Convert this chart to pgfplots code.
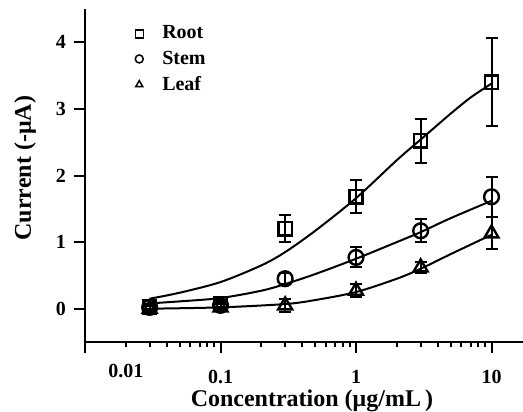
\documentclass[border=0pt]{standalone}
\usepackage{pgfplots}
\pgfplotsset{compat=1.18}
\usepackage{fontspec}
\setmainfont{Liberation Serif}
\begin{document}
\begin{tikzpicture}
\begin{axis}[
  scale only axis, width=219pt, height=166.5pt,
  xmode=log, xmin=0.01, xmax=17.07, ymin=-0.5, ymax=4.5,
  axis x line*=bottom, axis y line*=left,
  axis line style={line width=1.3pt},
  tick align=outside, major tick length=5.5pt, minor tick length=2.5pt,
  tick style={line width=1pt, black},
  xtick={0.01,0.1,1,10}, xticklabels={,0.1,1,10},
  extra x ticks={0.02}, extra x tick labels={0.01},
  extra x tick style={major tick length=2.5pt},
  ytick={0,1,2,3,4}, yticklabels={0,1,2,3,4},
  ticklabel style={font=\bfseries\fontsize{10}{12}\selectfont},
  xticklabel style={yshift=-5pt},
  yticklabel style={xshift=-0.5pt},
  xlabel={Concentration (μg/mL\,)},
  ylabel={Current (-μA)},
  label style={font=\bfseries\fontsize{12}{14}\selectfont},
  xlabel style={at={(axis description cs:0.518,0)}, anchor=north, yshift=-20.5pt},
  ylabel style={at={(axis description cs:0,0.522)}, anchor=center, yshift=30pt},
  legend style={draw=none, fill=none, at={(axis description cs:0.091,0.975)}, anchor=north west,
    font=\bfseries\fontsize{10}{12}\selectfont, row sep=0.5pt},
  legend cell align=left,
  legend image code/.code={\path[draw=none] (-4pt,0pt) -- (9.5pt,0pt);\draw[#1, mark size=2pt, line width=0.75pt] plot coordinates {(0pt,0pt)};},
  error bars/error bar style={line width=1pt},
  error bars/error mark options={rotate=90, mark size=3pt, line width=1pt},
]
% Root
\addplot[only marks, mark=square, mark size=3.3pt, line width=1.2pt,
  error bars/.cd, y dir=both, y explicit]
  table[x=x, y=y, y error=e] {
x y e
0.03 0.03 0.04
0.1 0.08 0.05
0.3 1.20 0.20
1 1.68 0.25
3 2.52 0.33
10 3.40 0.66
};
\addlegendentry{Root}
% Stem
\addplot[only marks, mark=o, mark size=3.7pt, line width=1.2pt,
  error bars/.cd, y dir=both, y explicit]
  table[x=x, y=y, y error=e] {
x y e
0.03 0.02 0.04
0.1 0.05 0.05
0.3 0.45 0.08
1 0.77 0.15
3 1.17 0.17
10 1.68 0.30
};
\addlegendentry{Stem}
% Leaf
\addplot[only marks, mark=triangle, mark size=4pt, line width=1.2pt,
  error bars/.cd, y dir=both, y explicit]
  table[x=x, y=y, y error=e] {
x y e
0.03 0.00 0.04
0.1 0.02 0.05
0.3 0.05 0.10
1 0.27 0.10
3 0.62 0.08
10 1.13 0.24
};
\addlegendentry{Leaf}
% fitted curves
\addplot[smooth, no marks, line width=1pt, forget plot] coordinates {
(0.03,0.15) (0.05,0.24) (0.1,0.40) (0.2,0.65) (0.3,0.85) (0.5,1.17) (1,1.66) (2,2.23) (3,2.54) (4,2.76) (5,2.93) (7,3.17) (10,3.38)};
\addplot[smooth, no marks, line width=1pt, forget plot] coordinates {
(0.03,0.08) (0.05,0.11) (0.1,0.16) (0.2,0.27) (0.3,0.37) (0.5,0.52) (1,0.75) (2,1.00) (3,1.15) (5,1.36) (10,1.62)};
\addplot[smooth, no marks, line width=1pt, forget plot] coordinates {
(0.03,0.00) (0.1,0.02) (0.3,0.07) (0.5,0.13) (1,0.25) (2,0.45) (3,0.60) (5,0.82) (10,1.11)};
\end{axis}
\pgfresetboundingbox
\path[use as bounding box] (-42.5pt,-34.5pt) rectangle (219pt,171pt);
\end{tikzpicture}
\end{document}
